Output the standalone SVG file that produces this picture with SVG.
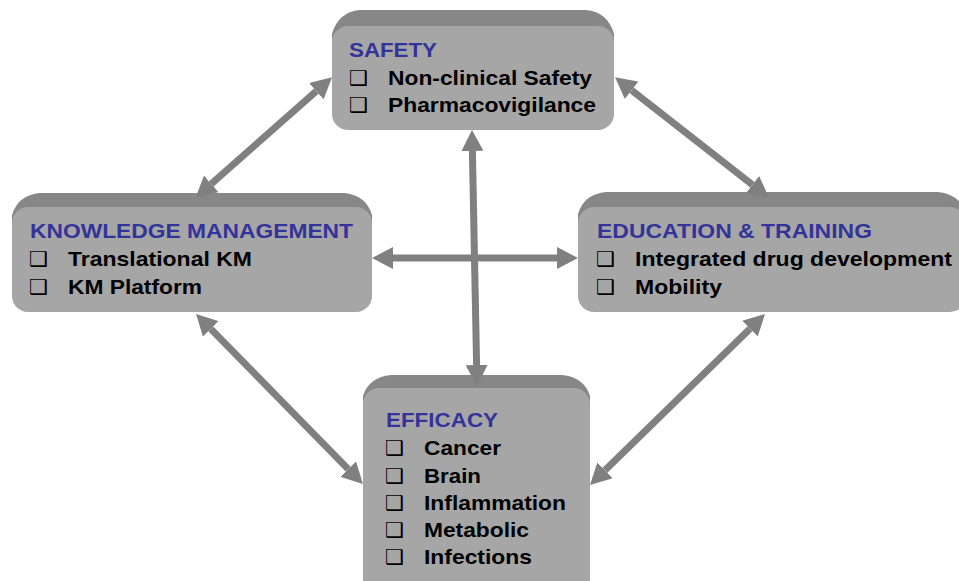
<svg xmlns="http://www.w3.org/2000/svg" width="959" height="581" viewBox="0 0 959 581">
  <style>
    .top { fill: #878787; }
    .front { fill: #a6a6a6; }
    .title { font-family: "Liberation Sans", Arial, sans-serif; font-weight: bold; font-size: 21px; fill: #333399; }
    .item { font-family: "Liberation Sans", Arial, sans-serif; font-weight: bold; font-size: 21px; fill: #000000; }
    .cb { font-family: "DejaVu Sans", sans-serif; font-size: 21px; fill: #000000; }
    .conn { stroke: #808080; stroke-width: 7; fill: none; marker-start: url(#head); marker-end: url(#head); }
  </style>
  <defs>
    <marker id="head" markerUnits="userSpaceOnUse" viewBox="0 -11 21 22" refX="0" refY="0" markerWidth="21" markerHeight="22" orient="auto-start-reverse">
      <path d="M0,-11 L21,0 L0,11 Z" fill="#808080"/>
    </marker>
  </defs>
  <rect width="959" height="581" fill="#ffffff"/>

  <g id="safety">
    <path class="top" d="M332,42 L332,34 Q338,12 360,10 L586,10 Q608,12 614,34 L614,42 Z"/>
    <rect class="front" x="332" y="26" width="282" height="104" rx="16"/>
    <text class="title" x="349" y="57" textLength="88" lengthAdjust="spacingAndGlyphs">SAFETY</text>
    <text class="cb" x="349" y="85">❑</text>
    <text class="item" x="388" y="85" textLength="204" lengthAdjust="spacingAndGlyphs">Non-clinical Safety</text>
    <text class="cb" x="349" y="112">❑</text>
    <text class="item" x="388" y="112" textLength="208" lengthAdjust="spacingAndGlyphs">Pharmacovigilance</text>
  </g>

  <g id="knowledge">
    <path class="top" d="M12,223 L12,215 Q18,195 40,193 L344,193 Q366,195 372,215 L372,223 Z"/>
    <rect class="front" x="12" y="207" width="360" height="105" rx="16"/>
    <text class="title" x="30" y="238" textLength="323" lengthAdjust="spacingAndGlyphs">KNOWLEDGE MANAGEMENT</text>
    <text class="cb" x="29" y="266">❑</text>
    <text class="item" x="68" y="266" textLength="184" lengthAdjust="spacingAndGlyphs">Translational KM</text>
    <text class="cb" x="29" y="294">❑</text>
    <text class="item" x="68" y="294" textLength="134" lengthAdjust="spacingAndGlyphs">KM Platform</text>
  </g>

  <g id="education">
    <path class="top" d="M578,223 L578,214 Q584,194 606,192 L938,192 Q960,194 966,214 L966,223 Z"/>
    <rect class="front" x="578" y="207" width="388" height="105" rx="16"/>
    <text class="title" x="597" y="238" textLength="275" lengthAdjust="spacingAndGlyphs">EDUCATION &amp; TRAINING</text>
    <text class="cb" x="596" y="266">❑</text>
    <text class="item" x="635" y="266" textLength="317" lengthAdjust="spacingAndGlyphs">Integrated drug development</text>
    <text class="cb" x="596" y="294">❑</text>
    <text class="item" x="635" y="294" textLength="87" lengthAdjust="spacingAndGlyphs">Mobility</text>
  </g>

  <g id="efficacy">
    <path class="top" d="M363,404 L363,396 Q369,377 391,375 L562,375 Q584,377 590,396 L590,404 Z"/>
    <rect class="front" x="363" y="388" width="227" height="220" rx="16"/>
    <text class="title" x="386" y="427" textLength="112" lengthAdjust="spacingAndGlyphs">EFFICACY</text>
    <text class="cb" x="385" y="455">❑</text>
    <text class="item" x="424" y="455" textLength="77" lengthAdjust="spacingAndGlyphs">Cancer</text>
    <text class="cb" x="385" y="483">❑</text>
    <text class="item" x="424" y="483" textLength="57" lengthAdjust="spacingAndGlyphs">Brain</text>
    <text class="cb" x="385" y="510">❑</text>
    <text class="item" x="424" y="510" textLength="142" lengthAdjust="spacingAndGlyphs">Inflammation</text>
    <text class="cb" x="385" y="537">❑</text>
    <text class="item" x="424" y="537" textLength="105" lengthAdjust="spacingAndGlyphs">Metabolic</text>
    <text class="cb" x="385" y="564">❑</text>
    <text class="item" x="424" y="564" textLength="108" lengthAdjust="spacingAndGlyphs">Infections</text>
  </g>

  <g id="connectors">
    <line class="conn" x1="316.3" y1="91.2" x2="211.3" y2="183.8"/>
    <line class="conn" x1="631.6" y1="90.3" x2="752.4" y2="184.7"/>
    <line class="conn" x1="393" y1="258" x2="557" y2="258"/>
    <line class="conn" x1="472.4" y1="151" x2="476.6" y2="365"/>
    <line class="conn" x1="210.8" y1="328.9" x2="348.2" y2="469.1"/>
    <line class="conn" x1="750" y1="328.7" x2="605" y2="470.3"/>
  </g>
</svg>
